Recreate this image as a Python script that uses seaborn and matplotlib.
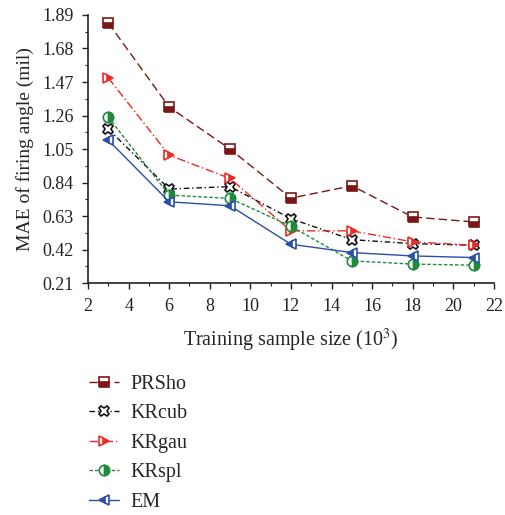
import matplotlib
matplotlib.use("Agg")
import matplotlib.pyplot as plt
import seaborn as sns
import numpy as np
import pandas as pd
from matplotlib.ticker import MultipleLocator, FixedLocator

sample_size = [3, 6, 9, 12, 15, 18, 21]
prsho = [1.84, 1.313, 1.05, 0.743, 0.82, 0.625, 0.594]
krcub = [1.175, 0.80, 0.815, 0.614, 0.483, 0.458, 0.448]
krgau = [1.495, 1.012, 0.866, 0.538, 0.538, 0.469, 0.448]
krspl = [1.249, 0.762, 0.741, 0.567, 0.350, 0.330, 0.323]
em = [1.106, 0.720, 0.695, 0.454, 0.402, 0.381, 0.371]
y_ticks = [0.21, 0.42, 0.63, 0.84, 1.05, 1.26, 1.47, 1.68, 1.89]

sns.set_theme(style="ticks")
plt.rcParams['font.family'] = ['Liberation Serif', 'DejaVu Serif']
plt.rcParams['mathtext.fontset'] = 'stix'

fig = plt.figure(figsize=(5.06, 5.15), dpi=100)
ax = fig.add_axes([0.174, 0.450, 0.802, 0.521])

series = [
    ("PRSho", prsho, "#7a1616", "s", (0, (6, 3)), "bottom"),
    ("KRcub", krcub, "#111111", "X", (0, (4, 2, 1, 2)), "none"),
    ("KRgau", krgau, "#ee2a24", ">", (0, (6, 2, 1, 2)), "right"),
    ("KRspl", krspl, "#1f8a3a", "o", (0, (2.5, 1.5)), "right"),
    ("EM", em, "#2b4ea8", "<", "-", "left"),
]

for name, vals, col, mk, ls, fs in series:
    df = pd.DataFrame({"x": sample_size, "y": vals})
    kw = dict(marker=mk, markersize=7.5, markeredgecolor=col, markeredgewidth=1.2,
              color=col, linewidth=1.0, linestyle=ls, label=name)
    if fs == "none":
        kw.update(markerfacecolor="white", markeredgecolor=col)
    else:
        kw.update(fillstyle=fs, markerfacecolor=col, markerfacecoloralt="white")
    sns.lineplot(data=df, x="x", y="y", ax=ax, **kw)

ax.set_xlim(2, 22)
ax.set_ylim(0.21, 1.89)
ax.xaxis.set_major_locator(MultipleLocator(2))
ax.xaxis.set_minor_locator(MultipleLocator(1))
ax.yaxis.set_major_locator(FixedLocator(y_ticks))
ax.yaxis.set_minor_locator(FixedLocator([v + 0.105 for v in y_ticks[:-1]]))
ax.yaxis.set_major_formatter(matplotlib.ticker.FormatStrFormatter('%.2f'))
ax.tick_params(which='major', direction='out', length=4.5, width=1, labelsize=13,
               colors='#222222', pad=3)
ax.tick_params(axis='x', which='major', pad=6)
ax.tick_params(axis='y', which='major', pad=6)
ax.tick_params(which='minor', direction='out', length=2.5, width=0.8, colors='#222222')
for s in ["top", "right"]:
    ax.spines[s].set_visible(False)
for s in ["left", "bottom"]:
    ax.spines[s].set_linewidth(1.2)
    ax.spines[s].set_color('#222222')

ax.set_xlabel("Training sample size (10$^3$)", fontsize=14.5, labelpad=9)
ax.set_ylabel("MAE of firing angle (mil)", fontsize=14, labelpad=6)

handles, labels = ax.get_legend_handles_labels()
ax.legend(handles, labels, loc="upper left", bbox_to_anchor=(0.14, 0.308),
          bbox_transform=fig.transFigure, frameon=False, fontsize=14.5,
          handlelength=1.5, labelspacing=0.52, handletextpad=0.55)

fig.savefig("out.png", dpi=100)
